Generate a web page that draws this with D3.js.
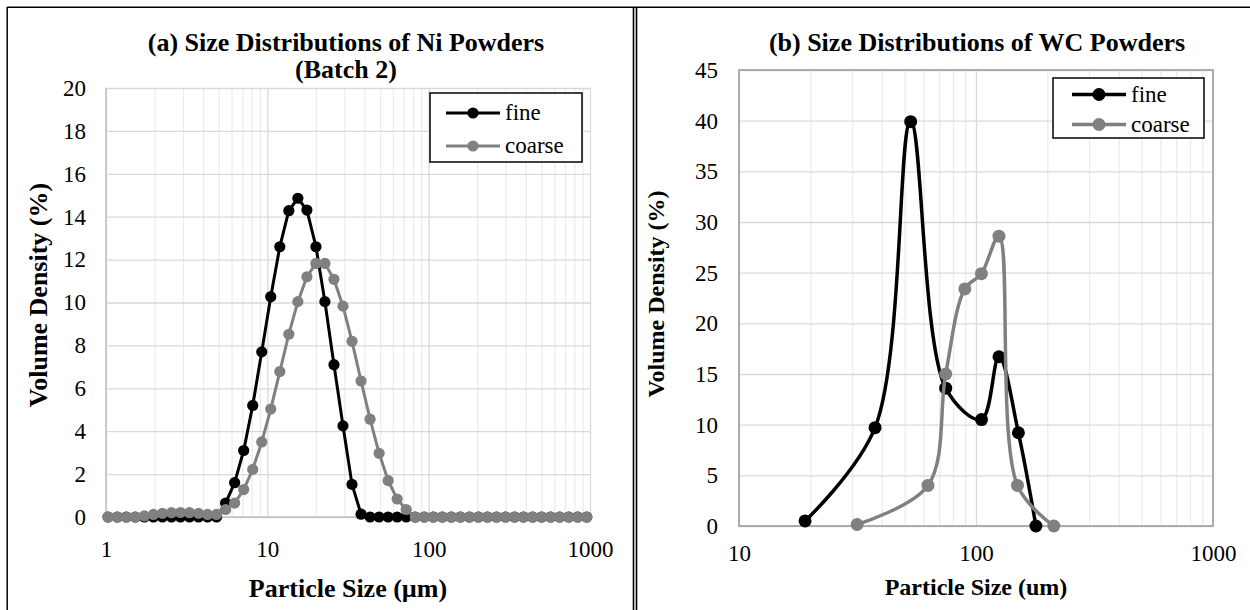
<!DOCTYPE html>
<html>
<head>
<meta charset="utf-8">
<script src="https://d3js.org/d3.v7.min.js"></script>
<style>
  body { margin: 0; background: #fff; }
</style>
</head>
<body>
<div id="chart"></div>
<script>
// ---- data ----

// (a) Ni powders, batch 2 : size classes (um) and volume density (%)
var niSize = [1.03, 1.175, 1.336, 1.52, 1.729, 1.967, 2.238, 2.545, 2.895, 3.293,
              3.746, 4.262, 4.848, 5.514, 6.272, 7.136, 8.118, 9.234, 10.5, 11.95,
              13.59, 15.46, 17.59, 20.01, 22.75, 25.88, 29.44, 33.49, 38.1, 43.34,
              49.3, 56.09, 63.79, 72.57, 82.55, 93.89, 106.8, 121.5, 138.2, 157.2,
              178.8, 203.4, 231.4, 263.2, 299.4, 340.6, 387.4, 440.7, 501.3, 570.2,
              648.6, 737.9, 839.2, 954.8];
var niFine = [0, 0, 0, 0, 0, 0, 0, 0, 0, 0,
              0, 0, 0, 0.65, 1.6, 3.1, 5.2, 7.7, 10.27, 12.6,
              14.28, 14.86, 14.31, 12.6, 10.04, 7.1, 4.25, 1.52, 0.13, 0,
              0, 0, 0, 0, 0, 0, 0, 0, 0, 0,
              0, 0, 0, 0, 0, 0, 0, 0, 0, 0,
              0, 0, 0, 0];
var niCoarse = [0, 0, 0, 0, 0.05, 0.12, 0.17, 0.2, 0.21, 0.2,
                0.17, 0.12, 0.12, 0.35, 0.65, 1.28, 2.22, 3.5, 5.03, 6.78,
                8.52, 10.04, 11.2, 11.82, 11.82, 11.08, 9.83, 8.19, 6.34, 4.56,
                2.97, 1.7, 0.84, 0.35, 0, 0, 0, 0, 0, 0,
                0, 0, 0, 0, 0, 0, 0, 0, 0, 0,
                0, 0, 0, 0];

// (b) WC powders
var wcFineSize = [19, 37.5, 53, 74.5, 105.5, 125, 151, 179];
var wcFine = [0.5, 9.7, 39.9, 13.6, 10.5, 16.7, 9.2, 0];
var wcCoarseSize = [31.5, 62.7, 74.5, 89.7, 105.4, 125, 149.6, 213];
var wcCoarse = [0.15, 4.0, 15.0, 23.4, 24.9, 28.6, 4.0, 0];

// axis ticks
var xTicksA = [1, 10, 100, 1000];
var xTicksB = [10, 100, 1000];
var yTicksA = [0, 2, 4, 6, 8, 10, 12, 14, 16, 18, 20];
var yTicksB = [0, 5, 10, 15, 20, 25, 30, 35, 40, 45];
var seriesNames = ["fine", "coarse"];
var seriesColors = ["#000000", "#808080"];

var W = 1250, H = 610;
var SERIF = "Liberation Serif";

var svg = d3.select("#chart")
  .append("svg")
    .attr("width", W)
    .attr("height", H)
    .attr("font-family", SERIF);

svg.append("rect").attr("width", W).attr("height", H).attr("fill", "#fff");

// outer frame + double separator
svg.append("line").attr("x1", 7).attr("x2", W).attr("y1", 7.2).attr("y2", 7.2)
  .attr("stroke", "#000").attr("stroke-width", 1.5);
svg.append("line").attr("x1", 7.2).attr("x2", 7.2).attr("y1", 7).attr("y2", H)
  .attr("stroke", "#000").attr("stroke-width", 1.5);
svg.append("line").attr("x1", 633.5).attr("x2", 633.5).attr("y1", 7).attr("y2", H)
  .attr("stroke", "#000").attr("stroke-width", 1.6);
svg.append("line").attr("x1", 636.5).attr("x2", 636.5).attr("y1", 7).attr("y2", H)
  .attr("stroke", "#000").attr("stroke-width", 1.6);

function drawPanel(cfg) {
  var g = svg.append("g");

  var x = d3.scaleLog().domain(cfg.xDomain).range([cfg.left, cfg.right]);
  var y = d3.scaleLinear().domain(cfg.yDomain).range([cfg.bottom, cfg.top]);
  var h = cfg.bottom - cfg.top, w = cfg.right - cfg.left;

  // minor vertical grid
  var minor = x.ticks().filter(function(d) { return cfg.xTicks.indexOf(d) < 0; });
  var gMinor = g.append("g")
    .attr("transform", "translate(0," + cfg.bottom + ")")
    .call(d3.axisBottom(x).tickValues(minor).tickFormat("").tickSize(-h));
  gMinor.select(".domain").remove();
  gMinor.selectAll("line").attr("stroke", "#ececec").attr("stroke-width", 1.3);

  // major vertical grid + x labels
  var gx = g.append("g")
    .attr("transform", "translate(0," + cfg.bottom + ")")
    .call(d3.axisBottom(x).tickValues(cfg.xTicks).tickFormat(d3.format("d"))
      .tickSize(-h).tickPadding(cfg.xPad));
  gx.select(".domain").remove();
  gx.selectAll("line").attr("stroke", "#d9d9d9").attr("stroke-width", 1.3);
  gx.selectAll("text").attr("font-size", "23px").attr("fill", "#000");

  // horizontal grid + y labels
  var gy = g.append("g")
    .attr("transform", "translate(" + cfg.left + ",0)")
    .call(d3.axisLeft(y).tickValues(cfg.yTicks).tickSize(-w).tickPadding(cfg.yPad));
  gy.select(".domain").remove();
  gy.selectAll("line").attr("stroke", "#d9d9d9").attr("stroke-width", 1.3);
  gy.selectAll("text").attr("font-size", "23px").attr("fill", "#000");

  // plot area axes / border
  if (cfg.border) {
    g.append("rect")
      .attr("x", cfg.left).attr("y", cfg.top).attr("width", w).attr("height", h)
      .attr("fill", "none").attr("stroke", "#a6a6a6").attr("stroke-width", 1.8);
  } else {
    g.append("line").attr("x1", cfg.left).attr("x2", cfg.left)
      .attr("y1", cfg.top).attr("y2", cfg.bottom)
      .attr("stroke", "#bfbfbf").attr("stroke-width", 1.5);
    g.append("line").attr("x1", cfg.left).attr("x2", cfg.right)
      .attr("y1", cfg.bottom).attr("y2", cfg.bottom)
      .attr("stroke", "#bfbfbf").attr("stroke-width", 1.5);
  }

  // series: line then markers, second series on top
  var line = d3.line()
    .x(function(d) { return x(d[0]); })
    .y(function(d) { return y(d[1]); })
    .curve(cfg.curve);

  cfg.series.forEach(function(s, i) {
    var pts = s.sizes.map(function(v, j) { return [v, s.values[j]]; });
    g.append("path")
      .attr("d", line(pts))
      .attr("fill", "none")
      .attr("stroke", seriesColors[i])
      .attr("stroke-width", cfg.lineW)
      .attr("stroke-linejoin", "round");
    g.selectAll(null)
      .data(pts)
      .enter()
      .append("circle")
        .attr("cx", function(d) { return x(d[0]); })
        .attr("cy", function(d) { return y(d[1]); })
        .attr("r", cfg.r)
        .attr("fill", seriesColors[i]);
  });

  // legend
  var L = cfg.legend;
  g.append("rect")
    .attr("x", L.x).attr("y", L.y).attr("width", L.w).attr("height", L.h)
    .attr("fill", "#fff").attr("stroke", "#000").attr("stroke-width", 1.5);
  seriesNames.forEach(function(name, i) {
    var cy = L.rows[i];
    g.append("line")
      .attr("x1", L.lx1).attr("x2", L.lx2).attr("y1", cy).attr("y2", cy)
      .attr("stroke", seriesColors[i]).attr("stroke-width", cfg.lineW);
    g.append("circle")
      .attr("cx", (L.lx1 + L.lx2) / 2).attr("cy", cy).attr("r", cfg.r)
      .attr("fill", seriesColors[i]);
    g.append("text")
      .attr("x", L.tx).attr("y", cy + 7)
      .attr("font-size", "23px")
      .text(name);
  });

  // titles
  cfg.title.forEach(function(t, i) {
    g.append("text")
      .attr("x", cfg.titleX).attr("y", cfg.titleY + i * 27)
      .attr("text-anchor", "middle")
      .attr("font-size", "26px").attr("font-weight", "bold")
      .text(t);
  });
  g.append("text")
    .attr("x", (cfg.left + cfg.right) / 2).attr("y", cfg.xTitleY)
    .attr("text-anchor", "middle")
    .attr("font-size", cfg.axisTitleSize).attr("font-weight", "bold")
    .text(cfg.xTitle);
  g.append("text")
    .attr("transform", "translate(" + cfg.yTitleX + "," + cfg.yTitleY + ") rotate(-90)")
    .attr("text-anchor", "middle")
    .attr("font-size", cfg.axisTitleSize).attr("font-weight", "bold")
    .text("Volume Density (%)");
}

// (a) Ni powders
drawPanel({
  left: 106, right: 590, top: 88, bottom: 517,
  xDomain: [1, 1000], yDomain: [0, 20],
  xTicks: xTicksA, yTicks: yTicksA,
  xPad: 24, yPad: 20,
  border: false,
  curve: d3.curveLinear,
  lineW: 3, r: 5.6,
  series: [
    {sizes: niSize, values: niFine},
    {sizes: niSize, values: niCoarse}
  ],
  legend: {x: 430, y: 93, w: 152, h: 69, rows: [113, 146], lx1: 446, lx2: 500, tx: 505},
  title: ["(a) Size Distributions of Ni Powders", "(Batch 2)"],
  titleX: 346, titleY: 51,
  xTitle: "Particle Size (\u00b5m)", xTitleY: 597,
  yTitleX: 47, yTitleY: 295,
  axisTitleSize: "26px"
});

// (b) WC powders, smoothed lines
drawPanel({
  left: 739, right: 1213, top: 70, bottom: 526,
  xDomain: [10, 1000], yDomain: [0, 45],
  xTicks: xTicksB, yTicks: yTicksB,
  xPad: 19, yPad: 21,
  border: true,
  curve: d3.curveCatmullRom.alpha(0.5),
  lineW: 3.5, r: 6.5,
  series: [
    {sizes: wcFineSize, values: wcFine},
    {sizes: wcCoarseSize, values: wcCoarse}
  ],
  legend: {x: 1053, y: 78, w: 151, h: 60, rows: [94.5, 124.5], lx1: 1072, lx2: 1126, tx: 1131},
  title: ["(b) Size Distributions of WC Powders"],
  titleX: 977, titleY: 51,
  xTitle: "Particle Size (um)", xTitleY: 595,
  yTitleX: 664, yTitleY: 294,
  axisTitleSize: "24px"
});

// axes put their own sans-serif on the group, override it
svg.selectAll("g").attr("font-family", SERIF);
</script>
</body>
</html>
